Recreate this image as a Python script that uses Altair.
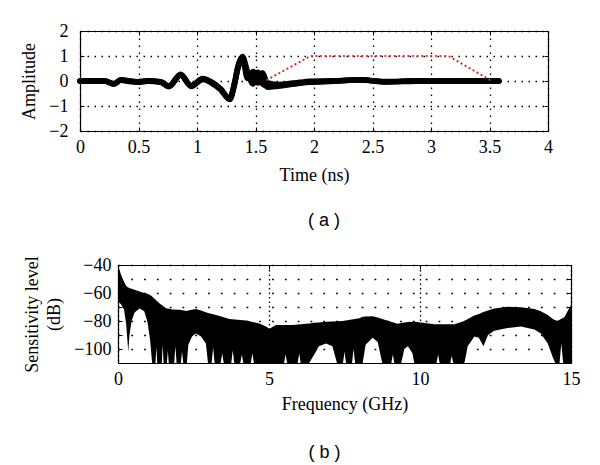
import altair as alt
import pandas as pd

# ---------------- panel (a): time-domain waveforms ----------------
TIME = [0.00, 0.21, 0.29, 0.35, 0.41, 0.49, 0.58, 0.69, 0.76, 0.86, 0.95, 1.05, 1.12, 1.20, 1.28, 1.32,
        1.35, 1.39, 1.43, 1.48, 1.52, 1.56, 1.60, 1.69, 1.83, 1.97, 2.17, 2.40, 2.60, 2.89, 3.20, 3.58]
AMP_1 = [0, 0, -0.12, 0.04, 0.00, -0.04, 0.00, -0.04, -0.21, 0.25, -0.20, 0.08, -0.05, -0.32, -0.72, -0.12,
         0.55, 0.95, 0.41, -0.12, 0.35, 0.15, -0.25, -0.21, -0.12, -0.03, 0.00, 0.05, -0.03, 0.00, 0.00, 0.00]
AMP_2 = [0, 0, -0.10, 0.05, 0.01, -0.03, 0.01, -0.03, -0.19, 0.27, -0.18, 0.10, -0.03, -0.30, -0.70, -0.08,
         0.60, 0.98, 0.28, 0.22, -0.08, 0.33, -0.08, -0.14, -0.08, -0.01, 0.01, 0.04, -0.02, 0.01, 0.00, 0.00]
AMP_3 = [0, 0, -0.13, 0.03, -0.01, -0.05, -0.01, -0.05, -0.23, 0.23, -0.22, 0.06, -0.07, -0.34, -0.74, -0.16,
         0.50, 0.93, 0.10, 0.38, 0.15, -0.12, -0.20, -0.18, -0.10, -0.05, -0.01, 0.05, -0.04, -0.01, 0.00, 0.00]
RED_TIME = [1.60, 1.97, 3.15, 3.52]
RED_AMP = [0.05, 1.0, 1.0, 0.0]
XA_TICKS = [0, 0.5, 1, 1.5, 2, 2.5, 3, 3.5, 4]
YA_TICKS = [-2, -1, 0, 1, 2]

# ---------------- panel (b): sensitivity spectra envelope ----------------
FREQ = [0, 0.1, 0.2, 0.27, 0.34, 0.38, 0.45, 0.55, 0.71, 0.87, 0.98, 1.06, 1.13, 1.37, 1.59, 1.81, 2.03, 2.28,
        2.33, 2.45, 2.58, 2.75, 2.91, 2.98, 3.25, 3.69, 4.24, 4.68, 4.9, 5.01, 5.23, 5.78, 6.33, 6.5, 6.65, 6.89,
        7.1, 7.25, 7.44, 7.99, 8.1, 8.2, 8.43, 8.6, 8.75, 9.04, 9.26, 9.38, 9.48, 9.6, 9.75, 9.81, 10.03, 10.47,
        11.14, 11.47, 11.58, 11.8, 11.95, 12.1, 12.25, 12.46, 12.9, 13.34, 13.79, 14.0, 14.23, 14.4, 14.48, 14.56,
        14.78, 15.0]
UPPER = [-40, -47, -52, -55, -56, -56.5, -57, -57.6, -59, -60, -60.5, -61.5, -62.5, -67.4, -70.9, -71.7, -72, -72.9,
         -72.5, -72, -71.4, -72.5, -73.8, -74.2, -75.7, -78.6, -79.7, -81.7, -84, -85.5, -82.9, -82.9, -81.7, -81.3,
         -81, -80.5, -80.3, -80.2, -80, -78, -77, -76.8, -76.6, -77.5, -78.5, -80.5, -82, -81.5, -81, -80.8, -80.5,
         -80.5, -81, -82.4, -82.4, -80, -78.5, -76, -75, -73.5, -72.5, -71, -69.8, -70.2, -71.4, -73, -75.7, -78.5,
         -79.5, -79.8, -77.4, -68.6]
LOWER = [-66, -68, -72, -82, -102, -90, -80, -74, -71, -73, -81, -93, -110, -110, -110, -110, -110, -110,
         -97, -91, -89, -91, -96, -110, -110, -110, -110, -110, -110, -110, -110, -110, -110, -104, -98, -96,
         -98, -110, -110, -110, -110, -97, -92, -95, -110, -110, -110, -110, -100, -98, -103, -110, -110, -110,
         -110, -110, -98, -91, -92, -98, -90, -87, -85, -84, -86, -89, -96, -106, -110, -110,
         -110, -110]
# narrow white slivers between the traces near the bottom of the band: (left, tip, right) GHz and tip level dB
GAP_LEFT = [1.24, 1.45, 1.62, 1.86, 2.08, 3.10, 3.40, 3.75, 4.05, 4.40, 5.50, 5.95, 7.45, 7.75, 9.05, 10.55, 11.00, 14.62]
GAP_TIP = [1.27, 1.48, 1.65, 1.90, 2.12, 3.15, 3.45, 3.80, 4.10, 4.45, 5.55, 6.00, 7.50, 7.80, 9.10, 10.60, 11.05, 14.68]
GAP_RIGHT = [1.30, 1.51, 1.68, 1.94, 2.16, 3.20, 3.50, 3.85, 4.15, 4.50, 5.60, 6.05, 7.55, 7.85, 9.15, 10.65, 11.10, 14.74]
GAP_DB = [-99, -97, -101, -98, -102, -99, -103, -101, -104, -103, -104, -103, -102, -100, -104, -104, -105, -96]
XB_TICKS = [0, 5, 10, 15]
YB_TICKS = [-100, -90, -80, -70, -60, -50, -40]
FLOOR_DB = -110

wave_rows = []
for name, amps in (("w1", AMP_1), ("w2", AMP_2), ("w3", AMP_3)):
    for t, a in zip(TIME, amps):
        wave_rows.append({"t": t, "amp": a, "trace": name})
wave_df = pd.DataFrame(wave_rows)
red_df = pd.DataFrame({"t": RED_TIME, "amp": RED_AMP})
spec_df = pd.DataFrame({"f": FREQ, "upper": UPPER, "lower": LOWER})
gap_rows = []
for i, (l, tp, r, db) in enumerate(zip(GAP_LEFT, GAP_TIP, GAP_RIGHT, GAP_DB)):
    gap_rows += [{"gap": i, "f": l, "top": FLOOR_DB}, {"gap": i, "f": tp, "top": db}, {"gap": i, "f": r, "top": FLOOR_DB}]
gap_df = pd.DataFrame(gap_rows)

SERIF = "Liberation Serif"
FS = 18
GRID = dict(grid=True, gridColor="black", gridOpacity=1, gridWidth=1.3)
DOMAIN = dict(domain=True, domainColor="black", domainWidth=1.2)

# both panels share the same plot-area origin; panel (b) starts its frame B_SHIFT px further right
B_SHIFT = 38
B_WIDTH = 453


def tick_axis(orient, values, offset=-4):
    return alt.Axis(orient=orient, values=values, offset=offset, tickSize=4, tickColor="black",
                    tickWidth=1, labels=False, domain=False, grid=False, title=None)


def frame_axis(orient, values):
    return alt.Axis(orient=orient, values=values, ticks=False, labels=False, grid=False, title=None, **DOMAIN)


# ---------------- panel (a) ----------------
xs_a = alt.Scale(domain=[0, 4], nice=False, zero=False)
ys_a = alt.Scale(domain=[-2, 2], nice=False)

wave = alt.Chart(wave_df).mark_line(color="black", strokeWidth=5.5, strokeJoin="round", strokeCap="round",
                                    interpolate="monotone").encode(
    x=alt.X("t:Q", scale=xs_a, axis=alt.Axis(orient="bottom", values=XA_TICKS, format="~g", title="Time (ns)",
                                            ticks=False, labelPadding=7, titlePadding=10,
                                            labelFlush=False, labelOverlap=False, gridDash=[1.5, 5.5],
                                            **GRID, **DOMAIN)),
    y=alt.Y("amp:Q", scale=ys_a, axis=alt.Axis(orient="left", values=YA_TICKS, format="d", title="Amplitude",
                                              ticks=False, labelPadding=12, titlePadding=10,
                                              labelOverlap=False, gridDash=[1.5, 5.5], **GRID, **DOMAIN)),
    detail="trace:N",
)
red = alt.Chart(red_df).mark_line(color="#e3262b", strokeWidth=2.2, strokeDash=[0.1, 4.5], strokeCap="round").encode(
    x=alt.X("t:Q", scale=xs_a, axis=None),
    y=alt.Y("amp:Q", scale=ys_a, axis=None),
)
ticks_a1 = alt.Chart(red_df).mark_point(size=0, opacity=0).encode(
    x=alt.X("t:Q", scale=xs_a, axis=tick_axis("bottom", XA_TICKS)),
    y=alt.Y("amp:Q", scale=ys_a, axis=tick_axis("left", YA_TICKS)),
)
ticks_a2 = alt.Chart(red_df).mark_point(size=0, opacity=0).encode(
    x=alt.X("t:Q", scale=xs_a, axis=tick_axis("top", XA_TICKS)),
    y=alt.Y("amp:Q", scale=ys_a, axis=tick_axis("right", YA_TICKS)),
)
frame_a = alt.Chart(red_df).mark_point(size=0, opacity=0).encode(
    x=alt.X("t:Q", scale=xs_a, axis=frame_axis("top", XA_TICKS)),
    y=alt.Y("amp:Q", scale=ys_a, axis=frame_axis("right", YA_TICKS)),
)
panel_a = alt.layer(wave, red, ticks_a1, ticks_a2, frame_a).resolve_axis(x="independent", y="independent").properties(
    width=468, height=100,
    title=alt.TitleParams(text="( a )", orient="bottom", anchor="middle", frame="group", dx=10, offset=28,
                          font="Liberation Sans", fontSize=18, fontWeight="normal", color="black"),
)

# ---------------- panel (b) ----------------
xs_b = alt.Scale(domain=[0, 15], range=[B_SHIFT, B_SHIFT + B_WIDTH], nice=False, zero=False)
ys_b = alt.Scale(domain=[-110, -40], nice=False, zero=False)

band = alt.Chart(spec_df).mark_area(color="black", opacity=1, clip=True).encode(
    x=alt.X("f:Q", scale=xs_b, axis=alt.Axis(orient="bottom", values=XB_TICKS, format="d",
                                            title="Frequency (GHz)", ticks=False, labelPadding=7,
                                            titlePadding=7, labelFlush=False, labelOverlap=False,
                                            gridDash=[1.5, 3], **GRID, **DOMAIN)),
    y=alt.Y("upper:Q", scale=ys_b, axis=alt.Axis(orient="left", offset=-B_SHIFT, values=YB_TICKS, format="d",
                                                labelExpr="datum.value % 20 == 0 ? datum.label : ''",
                                                title=["Sensitivity level", "(dB)"], titleLineHeight=22,
                                                ticks=False, labelPadding=7, titlePadding=10,
                                                labelOverlap=False, gridDash=[1.8, 11], **GRID, **DOMAIN)),
    y2="lower:Q",
)
gaps = alt.Chart(gap_df).mark_area(color="white", opacity=1, clip=True).encode(
    x=alt.X("f:Q", scale=xs_b, axis=None),
    y=alt.Y("top:Q", scale=ys_b, axis=None),
    y2=alt.datum(FLOOR_DB),
    detail="gap:N",
)
ticks_b1 = alt.Chart(spec_df).mark_point(size=0, opacity=0).encode(
    x=alt.X("f:Q", scale=xs_b, axis=tick_axis("bottom", XB_TICKS)),
    y=alt.Y("upper:Q", scale=ys_b, axis=tick_axis("left", YB_TICKS, offset=-B_SHIFT - 4)),
)
ticks_b2 = alt.Chart(spec_df).mark_point(size=0, opacity=0).encode(
    x=alt.X("f:Q", scale=xs_b, axis=tick_axis("top", XB_TICKS)),
    y=alt.Y("upper:Q", scale=ys_b, axis=tick_axis("right", YB_TICKS)),
)
frame_b = alt.Chart(spec_df).mark_point(size=0, opacity=0).encode(
    x=alt.X("f:Q", scale=xs_b, axis=frame_axis("top", XB_TICKS)),
    y=alt.Y("upper:Q", scale=ys_b, axis=frame_axis("right", YB_TICKS)),
)
panel_b = alt.layer(band, gaps, ticks_b1, ticks_b2, frame_b).resolve_axis(x="independent", y="independent").properties(
    width=B_SHIFT + B_WIDTH, height=98,
    title=alt.TitleParams(text="( b )", orient="bottom", anchor="middle", frame="group", dx=-1, offset=31,
                          font="Liberation Sans", fontSize=18, fontWeight="normal", color="black"),
)

chart = alt.vconcat(panel_a, panel_b, spacing=24).properties(
    padding={"left": 12, "top": 13, "right": 0, "bottom": 0}
).configure_view(stroke="transparent").configure_axis(
    labelFont=SERIF, titleFont=SERIF, labelFontSize=FS, titleFontSize=FS, labelColor="black",
    titleColor="black", titleFontWeight="normal"
)

chart.save("out.html", embed_options={"renderer": "svg", "actions": False})
